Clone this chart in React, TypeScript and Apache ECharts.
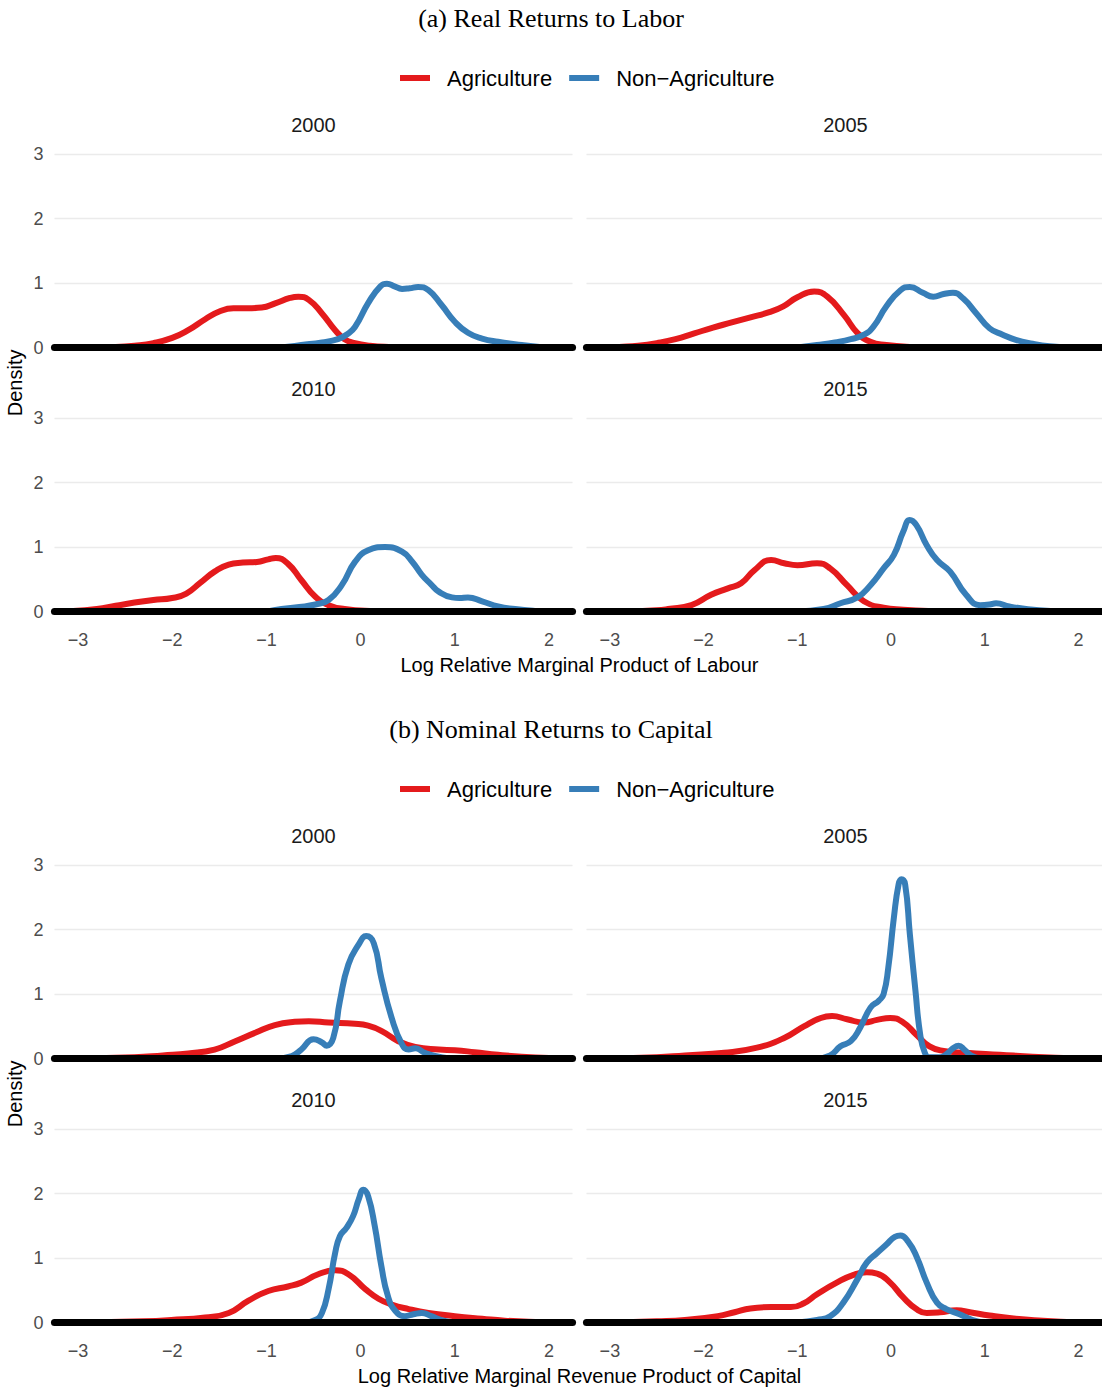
import React, { useEffect, useRef } from 'react';
import * as echarts from 'echarts';

// ---------------- data ----------------
const SERIES_NAMES = ['Agriculture', 'Non\u2212Agriculture'];
const YEARS = ['2000', '2005', '2010', '2015'];
const X_TICKS = [-3, -2, -1, 0, 1, 2];
const Y_TICKS = [0, 1, 2, 3];
const PANEL_TITLES = ['(a) Real Returns to Labor', '(b) Nominal Returns to Capital'];
const X_TITLES = [
  'Log Relative Marginal Product of Labour',
  'Log Relative Marginal Revenue Product of Capital',
];
const Y_TITLE = 'Density';

// (a) Real returns to labor
const A_AG_2000 = [[-3, 0], [-2.6, 0.01], [-2.4, 0.03], [-2.2, 0.07], [-2.0, 0.15], [-1.83, 0.27], [-1.65, 0.44], [-1.5, 0.56], [-1.35, 0.61], [-1.2, 0.61], [-1.05, 0.62], [-0.9, 0.69], [-0.75, 0.77], [-0.66, 0.79], [-0.55, 0.74], [-0.41, 0.53], [-0.27, 0.27], [-0.17, 0.13], [-0.06, 0.07], [0.1, 0.03], [0.3, 0.01], [0.6, 0], [2, 0]];
const A_NA_2000 = [[-1.0, 0], [-0.8, 0.01], [-0.63, 0.04], [-0.41, 0.08], [-0.24, 0.13], [-0.15, 0.2], [-0.06, 0.32], [0.08, 0.69], [0.21, 0.95], [0.28, 0.99], [0.36, 0.95], [0.44, 0.91], [0.52, 0.92], [0.61, 0.94], [0.72, 0.89], [0.86, 0.66], [1.0, 0.4], [1.14, 0.23], [1.29, 0.14], [1.46, 0.09], [1.71, 0.04], [1.9, 0.01], [2.05, 0]];
const A_AG_2005 = [[-3, 0], [-2.9, 0.01], [-2.7, 0.03], [-2.5, 0.07], [-2.3, 0.13], [-2.1, 0.22], [-1.9, 0.31], [-1.7, 0.39], [-1.5, 0.47], [-1.3, 0.55], [-1.15, 0.64], [-1.0, 0.78], [-0.82, 0.87], [-0.68, 0.79], [-0.5, 0.5], [-0.36, 0.23], [-0.22, 0.09], [-0.05, 0.04], [0.2, 0.01], [0.5, 0], [2, 0]];
const A_NA_2005 = [[-1.0, 0], [-0.79, 0.04], [-0.6, 0.08], [-0.43, 0.13], [-0.29, 0.2], [-0.19, 0.32], [-0.05, 0.64], [0.1, 0.89], [0.2, 0.94], [0.34, 0.85], [0.45, 0.79], [0.56, 0.83], [0.66, 0.85], [0.77, 0.76], [0.91, 0.53], [1.05, 0.3], [1.19, 0.2], [1.33, 0.12], [1.51, 0.06], [1.69, 0.02], [1.9, 0]];
const A_AG_2010 = [[-3.05, 0.01], [-2.8, 0.04], [-2.6, 0.09], [-2.4, 0.14], [-2.2, 0.18], [-2.0, 0.21], [-1.85, 0.28], [-1.7, 0.45], [-1.55, 0.62], [-1.4, 0.73], [-1.25, 0.76], [-1.1, 0.77], [-0.98, 0.81], [-0.9, 0.83], [-0.77, 0.74], [-0.63, 0.49], [-0.48, 0.23], [-0.34, 0.1], [-0.17, 0.04], [0.1, 0.01], [0.5, 0], [2, 0]];
const A_NA_2010 = [[-1.0, 0], [-0.84, 0.04], [-0.65, 0.07], [-0.48, 0.11], [-0.34, 0.18], [-0.2, 0.41], [-0.06, 0.77], [0.08, 0.95], [0.26, 1.0], [0.44, 0.93], [0.55, 0.77], [0.65, 0.57], [0.75, 0.42], [0.83, 0.31], [0.97, 0.22], [1.05, 0.21], [1.14, 0.22], [1.29, 0.16], [1.46, 0.08], [1.64, 0.04], [1.85, 0.01], [2.0, 0]];
const A_AG_2015 = [[-2.8, 0], [-2.5, 0.02], [-2.38, 0.04], [-2.13, 0.1], [-1.92, 0.26], [-1.74, 0.36], [-1.6, 0.44], [-1.46, 0.64], [-1.28, 0.8], [-1.14, 0.75], [-1.0, 0.72], [-0.79, 0.75], [-0.65, 0.67], [-0.47, 0.41], [-0.29, 0.16], [-0.08, 0.06], [0.13, 0.03], [0.4, 0.01], [0.8, 0], [2, 0]];
const A_NA_2015 = [[-1.0, 0], [-0.72, 0.04], [-0.54, 0.13], [-0.36, 0.22], [-0.22, 0.41], [-0.08, 0.67], [0.03, 0.88], [0.13, 1.24], [0.2, 1.42], [0.27, 1.34], [0.38, 1.03], [0.49, 0.8], [0.63, 0.62], [0.8, 0.26], [0.95, 0.1], [1.05, 0.11], [1.12, 0.13], [1.26, 0.08], [1.44, 0.04], [1.7, 0.01], [2.0, 0]];

// (b) Nominal returns to capital
const B_AG_2000 = [[-3, 0], [-2.4, 0.02], [-2.1, 0.05], [-1.83, 0.08], [-1.55, 0.14], [-1.33, 0.27], [-1.12, 0.4], [-0.91, 0.52], [-0.7, 0.57], [-0.55, 0.58], [-0.34, 0.56], [-0.06, 0.54], [0.08, 0.51], [0.22, 0.43], [0.4, 0.27], [0.58, 0.18], [0.83, 0.14], [1.0, 0.13], [1.21, 0.1], [1.46, 0.06], [1.71, 0.03], [2.0, 0.01]];
const B_NA_2000 = [[-0.9, 0], [-0.73, 0.04], [-0.63, 0.14], [-0.5, 0.3], [-0.41, 0.25], [-0.36, 0.2], [-0.29, 0.32], [-0.22, 0.89], [-0.13, 1.46], [-0.02, 1.77], [0.06, 1.9], [0.14, 1.79], [0.22, 1.25], [0.33, 0.63], [0.44, 0.22], [0.51, 0.14], [0.58, 0.16], [0.68, 0.09], [0.79, 0.04], [0.95, 0]];
const B_AG_2005 = [[-3, 0], [-2.5, 0.02], [-2.2, 0.05], [-1.78, 0.09], [-1.43, 0.17], [-1.14, 0.32], [-0.93, 0.5], [-0.75, 0.63], [-0.63, 0.66], [-0.47, 0.61], [-0.29, 0.56], [-0.15, 0.6], [-0.01, 0.63], [0.13, 0.56], [0.27, 0.37], [0.41, 0.19], [0.56, 0.12], [0.8, 0.09], [1.16, 0.06], [1.51, 0.03], [2, 0]];
const B_NA_2005 = [[-0.8, 0], [-0.65, 0.05], [-0.54, 0.19], [-0.43, 0.27], [-0.33, 0.48], [-0.22, 0.79], [-0.13, 0.9], [-0.08, 1.0], [-0.03, 1.41], [0.03, 2.19], [0.08, 2.7], [0.11, 2.78], [0.15, 2.7], [0.2, 1.93], [0.26, 1.05], [0.31, 0.38], [0.36, 0.09], [0.41, 0.02], [0.52, 0.02], [0.6, 0.08], [0.66, 0.16], [0.72, 0.2], [0.78, 0.14], [0.85, 0.05], [0.95, 0]];
const B_AG_2010 = [[-3, 0], [-2.3, 0.02], [-2.01, 0.04], [-1.65, 0.08], [-1.4, 0.15], [-1.19, 0.34], [-0.98, 0.49], [-0.77, 0.56], [-0.63, 0.62], [-0.45, 0.75], [-0.27, 0.81], [-0.13, 0.75], [0.05, 0.52], [0.19, 0.37], [0.33, 0.28], [0.51, 0.21], [0.72, 0.15], [1.0, 0.1], [1.29, 0.06], [1.53, 0.03], [2, 0]];
const B_NA_2010 = [[-0.6, 0], [-0.48, 0.04], [-0.41, 0.15], [-0.34, 0.52], [-0.27, 1.08], [-0.22, 1.34], [-0.15, 1.47], [-0.08, 1.65], [-0.02, 1.91], [0.03, 2.06], [0.08, 1.96], [0.15, 1.5], [0.22, 0.88], [0.29, 0.41], [0.37, 0.18], [0.47, 0.1], [0.56, 0.13], [0.65, 0.15], [0.75, 0.1], [0.86, 0.04], [1.0, 0]];
const B_AG_2015 = [[-3, 0], [-2.5, 0.02], [-2.2, 0.04], [-1.85, 0.1], [-1.67, 0.16], [-1.5, 0.22], [-1.28, 0.24], [-1.07, 0.24], [-0.93, 0.3], [-0.79, 0.44], [-0.58, 0.62], [-0.4, 0.74], [-0.26, 0.78], [-0.15, 0.76], [-0.01, 0.62], [0.13, 0.39], [0.27, 0.21], [0.38, 0.15], [0.52, 0.16], [0.7, 0.19], [0.84, 0.16], [1.05, 0.11], [1.33, 0.06], [1.62, 0.03], [2, 0]];
const B_NA_2015 = [[-1.0, 0], [-0.79, 0.04], [-0.65, 0.1], [-0.51, 0.31], [-0.36, 0.67], [-0.26, 0.93], [-0.15, 1.08], [-0.05, 1.21], [0.04, 1.33], [0.1, 1.35], [0.18, 1.26], [0.27, 1.03], [0.38, 0.62], [0.49, 0.31], [0.59, 0.21], [0.73, 0.13], [0.87, 0.04], [1.0, 0]];

const PANEL_DATA = [
  [[A_AG_2000, A_NA_2000], [A_AG_2005, A_NA_2005], [A_AG_2010, A_NA_2010], [A_AG_2015, A_NA_2015]],
  [[B_AG_2000, B_NA_2000], [B_AG_2005, B_NA_2005], [B_AG_2010, B_NA_2010], [B_AG_2015, B_NA_2015]],
];

// ---------------- layout / style ----------------
const COLORS = ['#E41A1C', '#377EB8'];
const X_MIN = -3.25;
const X_MAX = 2.25;
const PX_PER_X = 94.2;
const PX_PER_Y = 64.5;
const Y_MAX = 3;
const COL_LEFT = [54.45, 586.45];
const ROW_Y0 = [[347.6, 611.6], [1058.6, 1322.6]];
const TITLE_Y = [19, 730];
const LEGEND_Y = [78, 789];
const SANS = '"Liberation Sans", Arial, Helvetica, sans-serif';
const SERIF = '"Liberation Serif", "Times New Roman", serif';

const fmtMinus = (v: number) => (v < 0 ? '\u2212' + Math.abs(v) : String(v));

function buildOption() {
  const grid: any[] = [];
  const xAxis: any[] = [];
  const yAxis: any[] = [];
  const series: any[] = [];
  const graphic: any[] = [];
  const legend: any[] = [];

  const gw = (X_MAX - X_MIN) * PX_PER_X;
  const gh = Y_MAX * PX_PER_Y;

  for (let p = 0; p < 2; p++) {
    graphic.push({
      type: 'text',
      left: 'center',
      top: TITLE_Y[p] - 14,
      style: { text: PANEL_TITLES[p], font: `26px ${SERIF}`, fill: '#000' },
    });
    legend.push({
      data: SERIES_NAMES,
      left: 395,
      top: LEGEND_Y[p] - 16,
      icon: 'rect',
      itemWidth: 30,
      itemHeight: 6,
      itemGap: 17,
      textStyle: { fontSize: 22, color: '#000', fontFamily: SANS, padding: [0, 0, 0, 12] },
      selectedMode: false,
    });
    const yMid = (ROW_Y0[p][0] - gh + ROW_Y0[p][1]) / 2;
    graphic.push({
      type: 'text',
      x: 15,
      y: yMid,
      rotation: Math.PI / 2,
      style: {
        text: Y_TITLE,
        font: `20px ${SANS}`,
        fill: '#000',
        align: 'center',
        verticalAlign: 'middle',
      },
    });
    graphic.push({
      type: 'text',
      x: (COL_LEFT[0] + COL_LEFT[1] + gw) / 2,
      y: ROW_Y0[p][1] + 53.5,
      style: {
        text: X_TITLES[p],
        font: `20px ${SANS}`,
        fill: '#000',
        align: 'center',
        verticalAlign: 'middle',
      },
    });

    for (let r = 0; r < 2; r++) {
      for (let c = 0; c < 2; c++) {
        const f = r * 2 + c;
        const idx = grid.length;
        const y0 = ROW_Y0[p][r];
        const left = COL_LEFT[c];
        const top = y0 - gh;
        grid.push({ left, top, width: gw, height: gh });
        graphic.push({
          type: 'text',
          x: left + gw / 2,
          y: top - 29,
          style: {
            text: YEARS[f],
            font: `20px ${SANS}`,
            fill: '#1A1A1A',
            align: 'center',
            verticalAlign: 'middle',
          },
        });
        xAxis.push({
          type: 'value',
          gridIndex: idx,
          min: X_MIN,
          max: X_MAX,
          z: 10,
          axisLine: { show: true, onZero: false, lineStyle: { color: '#000', width: 7 } },
          axisTick: { show: false },
          splitLine: { show: false },
          axisLabel: {
            show: r === 1,
            customValues: X_TICKS,
            formatter: fmtMinus,
            color: '#4D4D4D',
            fontSize: 18,
            fontFamily: SANS,
            margin: 19,
          },
        });
        yAxis.push({
          type: 'value',
          gridIndex: idx,
          min: 0,
          max: Y_MAX,
          interval: 1,
          axisLine: { show: false },
          axisTick: { show: false },
          splitLine: { show: true, lineStyle: { color: '#EBEBEB', width: 1.3 } },
          axisLabel: {
            show: c === 0,
            customValues: Y_TICKS,
            color: '#4D4D4D',
            fontSize: 18,
            fontFamily: SANS,
            margin: 11,
          },
        });
        for (let s = 0; s < 2; s++) {
          series.push({
            type: 'line',
            name: SERIES_NAMES[s],
            xAxisIndex: idx,
            yAxisIndex: idx,
            data: PANEL_DATA[p][f][s],
            showSymbol: false,
            symbol: 'none',
            smooth: 0.5,
            clip: false,
            color: COLORS[s],
            lineStyle: { color: COLORS[s], width: 6, cap: 'round', join: 'round' },
            z: 2,
          });
        }
      }
    }
  }

  return {
    animation: false,
    backgroundColor: '#fff',
    grid,
    xAxis,
    yAxis,
    series,
    legend,
    graphic,
  };
}

export default function App() {
  const ref = useRef<HTMLDivElement>(null);
  useEffect(() => {
    if (!ref.current) return;
    const chart = echarts.init(ref.current, undefined, { renderer: 'svg' });
    chart.setOption(buildOption() as any);
    return () => chart.dispose();
  }, []);
  return (
    <div
      ref={ref}
      style={{ position: 'absolute', left: 0, top: 0, width: 1102, height: 1391, background: '#fff' }}
    />
  );
}
